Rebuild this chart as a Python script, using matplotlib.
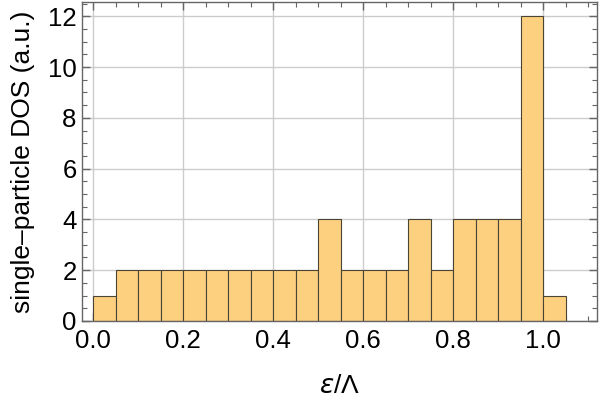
import matplotlib
matplotlib.use("Agg")
import matplotlib.pyplot as plt
from matplotlib.ticker import MultipleLocator

bin_width = 0.05
bin_lefts = [round(i * 0.05, 2) for i in range(21)]
counts = [1, 2, 2, 2, 2, 2, 2, 2, 2, 2, 4, 2, 2, 2, 4, 2, 4, 4, 4, 12, 1]
x_ticks = [0.0, 0.2, 0.4, 0.6, 0.8, 1.0]
y_ticks = [0, 2, 4, 6, 8, 10, 12]

plt.rcParams['font.family'] = ['Liberation Sans', 'DejaVu Sans']
plt.rcParams['mathtext.fontset'] = 'dejavusans'

fig = plt.figure(figsize=(6.0, 4.03), dpi=100)
ax = fig.add_axes([0.137, 0.2035, 0.8575, 0.7915])

ax.bar(bin_lefts, counts, width=bin_width, align='edge',
       color='#FDD07F', edgecolor='#4a4436', linewidth=0.8, zorder=2)

ax.set_xlim(-0.0244, 1.1187)
ax.set_ylim(0, 12.56)
ax.set_xticks(x_ticks)
ax.set_xticklabels([f"{t:.1f}" for t in x_ticks])
ax.set_yticks(y_ticks)
ax.xaxis.set_minor_locator(MultipleLocator(0.05))
ax.yaxis.set_minor_locator(MultipleLocator(0.5))
ax.grid(True, which='major', color='#cccccc', linewidth=1.0, zorder=0)
ax.set_axisbelow(True)

ax.tick_params(which='both', direction='in', top=True, right=True,
               color='#666666', labelsize=18.5, labelcolor='black')
ax.tick_params(which='major', length=6, width=1)
ax.tick_params(which='minor', length=3.5, width=0.8)
ax.tick_params(axis='x', pad=6)
ax.tick_params(axis='y', pad=4)
for s in ax.spines.values():
    s.set_color('#666666')
    s.set_linewidth(1.0)

ax.set_xlabel(r'$\epsilon$/\u039b'.replace('\\u039b', '\u039b'), fontsize=19, labelpad=15)
ax.set_ylabel('single\u2013particle DOS (a.u.)', fontsize=19, labelpad=9)

fig.savefig('out.png', dpi=100)
